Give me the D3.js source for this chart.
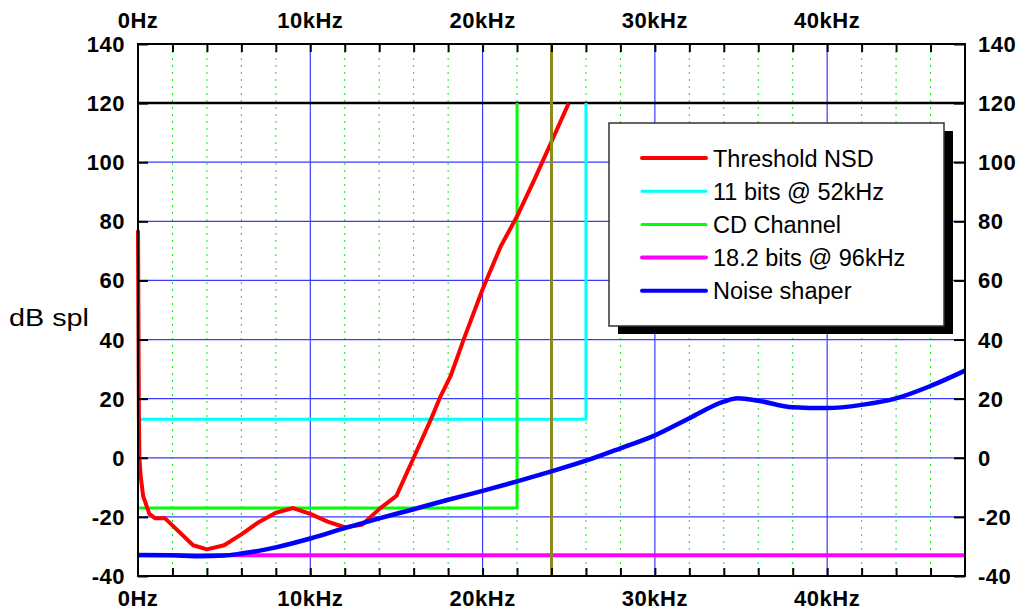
<!DOCTYPE html>
<html><head><meta charset="utf-8">
<script src="https://cdn.jsdelivr.net/npm/d3@7/dist/d3.min.js"></script>
<style>
html,body{margin:0;padding:0;background:#fff;}
svg{display:block;font-family:"Liberation Sans",Arial,sans-serif;}
</style></head>
<body>
<svg id="chart" width="1021" height="613"></svg>
<script>
// ---------- data ----------
const freqTickValues = [0, 10, 20, 30, 40];
const freqTickLabels = ["0Hz", "10kHz", "20kHz", "30kHz", "40kHz"];
const minorFreqTicks = d3.range(0, 48.01, 2);
const dbTickValues = [140, 120, 100, 80, 60, 40, 20, 0, -20, -40];

const seriesNames = ["Threshold NSD", "11 bits @ 52kHz", "CD Channel", "18.2 bits @ 96kHz", "Noise shaper"];
const seriesColors = ["#ff0000", "#00ffff", "#00ff00", "#ff00ff", "#0000ff"];

const nsdFreq = [0.0, 0.03, 0.05, 0.08, 0.15, 0.3, 0.66, 1.0, 1.57, 3.2, 4.0, 5.0, 6.0, 7.0, 8.0, 9.0, 10.0, 11.0, 12.0, 13.0, 14.05, 15.0, 16.0, 17.0, 17.56, 18.14, 18.9, 20.0, 21.05, 22.0, 23.0, 24.05, 25.0];
const nsdDb   = [77, 40, 15, 0, -6, -13, -19, -20.5, -20.5, -29.6, -31, -29.6, -25.9, -21.8, -18.6, -17, -19, -21.6, -23.5, -22.7, -17.1, -12.9, 0, 13, 20.8, 27.6, 40, 57, 71.5, 81.7, 94, 107.6, 120];

const bits11Freq = [0, 26, 26];
const bits11Db   = [13, 13, 120];

const cdFreq = [0, 22, 22];
const cdDb   = [-17, -17, 120];

const bits18Freq = [0, 48];
const bits18Db   = [-33, -33];

const shaperFreq = [0, 2, 3.5, 5, 6, 7, 8, 10, 12, 14, 16, 18, 20, 22, 24, 26, 28, 30, 32, 34, 34.8, 36, 38, 40, 42, 44, 46, 48];
const shaperDb   = [-32.9, -33, -33.3, -33.1, -32.4, -31.5, -30.3, -27.3, -23.8, -20.5, -17.4, -14.2, -11.2, -8.0, -4.6, -1.0, 3.2, 7.6, 13.4, 19, 20.1, 19.3, 17.1, 16.8, 17.9, 20.1, 24.3, 29.5];

const limitFreq = [0, 48];
const limitDb = [120, 120];

const nyquistFreq = [24, 24];
const nyquistDb = [140, -40];

// ---------- layout ----------
const svg = d3.select("#chart");
const W = 1021, H = 613;
const mLeft = 138, mRight = 965, mTop = 44, mBottom = 576;
const x = d3.scaleLinear().domain([0, 48]).range([mLeft, mRight]);
const y = d3.scaleLinear().domain([-40, 140]).range([mBottom, mTop]);

svg.append("rect").attr("width", W).attr("height", H).attr("fill", "#fff");

const zip = (a, b) => a.map((v, i) => [v, b[i]]);
const line = d3.line().x(d => x(d[0])).y(d => y(d[1]));

// grid: minor dotted green verticals
const grid = svg.append("g");
grid.selectAll(".minor").data(minorFreqTicks.filter(f => f % 10 !== 0 && f < 48))
  .join("line")
  .attr("x1", d => x(d)).attr("x2", d => x(d))
  .attr("y1", mTop).attr("y2", mBottom)
  .attr("stroke", "#00ee00").attr("stroke-width", 1)
  .attr("stroke-dasharray", "2,5");
// major blue verticals
grid.selectAll(".majv").data(freqTickValues.filter(f => f > 0))
  .join("line")
  .attr("x1", d => x(d)).attr("x2", d => x(d))
  .attr("y1", mTop).attr("y2", mBottom)
  .attr("stroke", "#3a3aff").attr("stroke-width", 1.2);
// horizontal blue
grid.selectAll(".majh").data(dbTickValues.filter(v => v > -40 && v < 140))
  .join("line")
  .attr("x1", mLeft).attr("x2", mRight)
  .attr("y1", d => y(d)).attr("y2", d => y(d))
  .attr("stroke", "#3a3aff").attr("stroke-width", 1.2);

// ---------- series ----------
const plot = svg.append("g").attr("fill", "none").attr("stroke-linejoin", "round");
plot.append("path").datum(zip(limitFreq, limitDb)).attr("d", line)
  .attr("stroke", "#000").attr("stroke-width", 2.5);
plot.append("path").datum(zip(bits11Freq, bits11Db)).attr("d", line)
  .attr("stroke", seriesColors[1]).attr("stroke-width", 3);
plot.append("path").datum(zip(cdFreq, cdDb)).attr("d", line)
  .attr("stroke", seriesColors[2]).attr("stroke-width", 3);
plot.append("path").datum(zip(bits18Freq, bits18Db)).attr("d", line)
  .attr("stroke", seriesColors[3]).attr("stroke-width", 4);
plot.append("path").datum(zip(nsdFreq, nsdDb)).attr("d", line)
  .attr("stroke", seriesColors[0]).attr("stroke-width", 4);
plot.append("path").datum(zip(nyquistFreq, nyquistDb)).attr("d", line)
  .attr("stroke", "#8c8a1c").attr("stroke-width", 3);
plot.append("path").datum(zip(shaperFreq, shaperDb))
  .attr("d", d3.line().x(d => x(d[0])).y(d => y(d[1])).curve(d3.curveMonotoneX))
  .attr("stroke", seriesColors[4]).attr("stroke-width", 4.5);

// ---------- axes ----------
const axG = svg.append("g");
const styleAxis = g => {
  g.select(".domain").remove();
  g.selectAll(".tick line").attr("stroke", "#000").attr("stroke-width", 2);
  g.selectAll(".tick text").remove();
};
axG.append("g").attr("transform", `translate(0,${mTop})`)
  .call(d3.axisTop(x).tickValues(minorFreqTicks.filter(f => f > 0 && f < 48)).tickSize(-8)).call(styleAxis);
axG.append("g").attr("transform", `translate(0,${mBottom})`)
  .call(d3.axisBottom(x).tickValues(minorFreqTicks.filter(f => f > 0 && f < 48)).tickSize(-8)).call(styleAxis);
axG.append("g").attr("transform", `translate(${mLeft},0)`)
  .call(d3.axisLeft(y).tickValues(dbTickValues).tickSize(-10)).call(styleAxis);
axG.append("g").attr("transform", `translate(${mRight},0)`)
  .call(d3.axisRight(y).tickValues(dbTickValues).tickSize(-11)).call(styleAxis);
axG.append("rect").attr("x", mLeft).attr("y", mTop)
  .attr("width", mRight - mLeft).attr("height", mBottom - mTop)
  .attr("fill", "none").attr("stroke", "#000").attr("stroke-width", 2);

// tick labels
const lab = svg.append("g").attr("font-weight", "bold").attr("font-size", 22).attr("fill", "#000");
lab.selectAll(".tl").data(freqTickValues).join("text")
  .attr("x", d => x(d)).attr("y", 28).attr("text-anchor", "middle")
  .attr("letter-spacing", 0.5)
  .text((d, i) => freqTickLabels[i]);
lab.selectAll(".bl").data(freqTickValues).join("text")
  .attr("x", d => x(d)).attr("y", 606).attr("text-anchor", "middle")
  .attr("letter-spacing", 0.5)
  .text((d, i) => freqTickLabels[i]);
lab.selectAll(".ll").data(dbTickValues).join("text")
  .attr("x", 125).attr("y", d => y(d) + 8).attr("text-anchor", "end")
  .attr("letter-spacing", 0.5)
  .text(d => d);
lab.selectAll(".rl").data(dbTickValues).join("text")
  .attr("x", 978).attr("y", d => y(d) + 8).attr("text-anchor", "start")
  .attr("letter-spacing", 0.5)
  .text(d => d);

svg.append("text").attr("x", 9).attr("y", 326).attr("font-size", 23)
  .attr("textLength", 80).attr("lengthAdjust", "spacingAndGlyphs")
  .attr("fill", "#000").text("dB spl");

// ---------- legend ----------
const lg = svg.append("g");
lg.append("rect").attr("x", 618).attr("y", 131).attr("width", 335).attr("height", 203).attr("fill", "#000");
lg.append("rect").attr("x", 609).attr("y", 123).attr("width", 335).attr("height", 203)
  .attr("fill", "#fff").attr("stroke", "#333").attr("stroke-width", 1.5);
const legendWidths = [4, 3, 3, 4, 4];
seriesNames.forEach((n, i) => {
  const yy = 158 + i * 33.2;
  lg.append("line").attr("x1", 642).attr("x2", 706).attr("y1", yy).attr("y2", yy)
    .attr("stroke", seriesColors[i]).attr("stroke-width", legendWidths[i]).attr("stroke-linecap", "round");
  lg.append("text").attr("x", 713).attr("y", yy + 8.5).attr("font-size", 23.5)
    .attr("fill", "#000").text(n);
});
</script>
</body></html>
